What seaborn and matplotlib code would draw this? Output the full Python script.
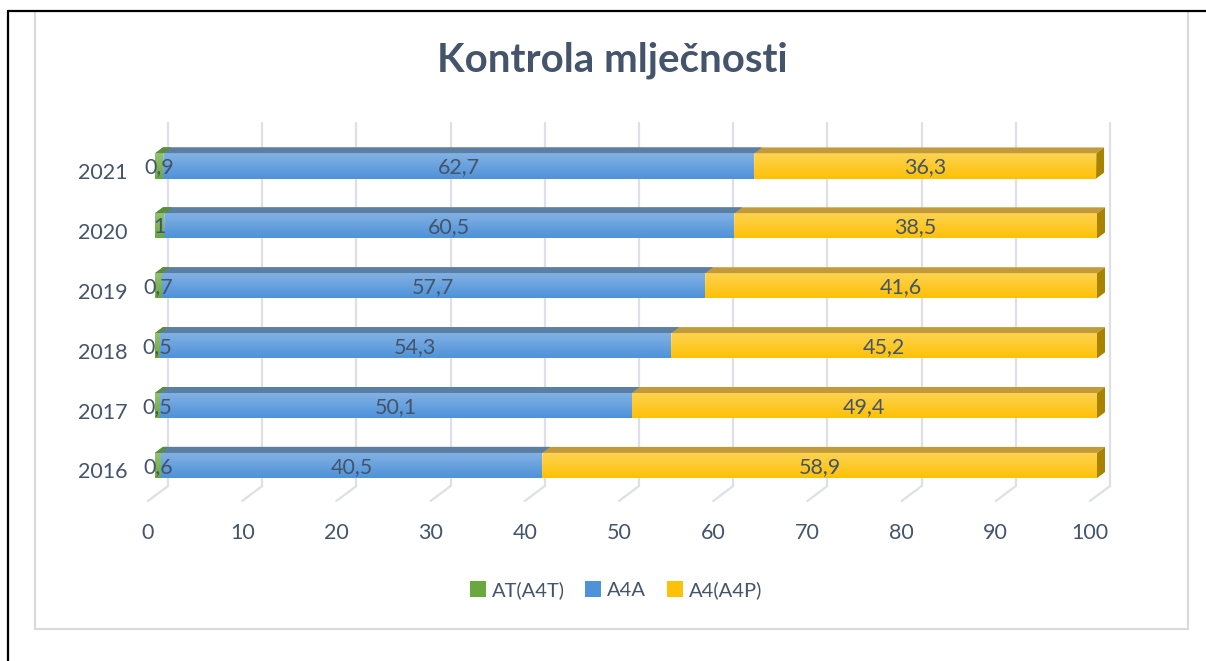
import matplotlib
matplotlib.use("Agg")
import matplotlib.pyplot as plt
import seaborn as sns
import numpy as np
from matplotlib.patches import Polygon, Rectangle
from matplotlib.transforms import IdentityTransform, ScaledTranslation
from matplotlib.lines import Line2D

years = ["2021", "2020", "2019", "2018", "2017", "2016"]
at_a4t = [0.9, 1.0, 0.7, 0.5, 0.5, 0.6]
a4a = [62.7, 60.5, 57.7, 54.3, 50.1, 40.5]
a4_a4p = [36.3, 38.5, 41.6, 45.2, 49.4, 58.9]
series_names = ["AT(A4T)", "A4A", "A4(A4P)"]
x_ticks = [0, 10, 20, 30, 40, 50, 60, 70, 80, 90, 100]

front_cols = ["#6aa83e", "#4f92d9", "#fdc108"]
top_cols = ["#5a8f36", "#5a7fa6", "#c29a3a"]
side_col = "#a88300"
text_col = "#44546a"
grid_col = "#dde0e7"

W, H = 1206, 661
sns.set_style("white")
plt.rcParams["font.family"] = ["Lato", "DejaVu Sans"]

fig = plt.figure(figsize=(W / 100, H / 100), dpi=100)
ax = fig.add_axes([155 / W, (H - 501) / H, 942 / W, 378 / H])
ax.patch.set_visible(False)

# stacked by overdrawing cumulative totals
layers = [np.array(at_a4t), np.array(a4a), np.array(a4_a4p)]
cum = np.cumsum(layers, axis=0)
pix = IdentityTransform()
dx, dy = 8, 6  # bar depth in pixels
ylim = (5.593, -0.718)

ax.set_xlim(0, 100)
ax.set_ylim(*ylim)
fig.canvas.draw()

for k in [2, 1, 0]:
    z = 3 + (2 - k)
    n0 = len(ax.patches)
    sns.barplot(x=cum[k], y=years, orient="h", color=front_cols[k],
                saturation=1, width=0.42, linewidth=0, ax=ax, zorder=z)
    ax.set_xlim(0, 100)
    ax.set_ylim(*ylim)
    for p in ax.patches[n0:]:
        x0, y0 = ax.transData.transform((p.get_x(), p.get_y() + p.get_height()))
        x1, y1 = ax.transData.transform((p.get_x() + p.get_width(), p.get_y()))
        top = Polygon([(x0, y1), (x1, y1), (x1 + dx, y1 + dy), (x0 + dx, y1 + dy)],
                      closed=True, transform=pix, facecolor=top_cols[k],
                      edgecolor="none", zorder=z, clip_on=False)
        ax.add_artist(top)
        if k == 2:
            side = Polygon([(x1, y0), (x1, y1), (x1 + dx, y1 + dy), (x1 + dx, y0 + dy)],
                           closed=True, transform=pix, facecolor=side_col,
                           edgecolor="none", zorder=z, clip_on=False)
            ax.add_artist(side)
        # soft gradient highlight on front face
        rgba = np.ones((64, 1, 4))
        rgba[..., 3] = np.linspace(0.3, 0.0, 64).reshape(-1, 1)
        im = ax.imshow(rgba, extent=(p.get_x(), p.get_x() + p.get_width(),
                                     p.get_y() + p.get_height(), p.get_y()),
                       aspect="auto", zorder=z + 0.1, origin="upper",
                       interpolation="bilinear")
        im.set_clip_path(p)
    ax.set_xlim(0, 100)
    ax.set_ylim(*ylim)

# gridlines on back wall + floor diagonals
bx, by = 13, 15
_, y_bot = ax.transAxes.transform((0, 0))
_, y_top = ax.transAxes.transform((0, 1))
for t in x_ticks:
    xf, _ = ax.transData.transform((t, 0))
    xb = xf + bx
    ax.add_line(Line2D([xb, xb], [y_bot + by, y_top], transform=pix,
                       color=grid_col, lw=1.6, zorder=0.5, clip_on=False))
    ax.add_line(Line2D([xb, xb - 20], [y_bot + by, y_bot], transform=pix,
                       color=grid_col, lw=1.6, zorder=0.5, clip_on=False))

# data labels
for k in range(3):
    start = cum[k] - layers[k]
    for i, v in enumerate(layers[k]):
        txt = f"{v:g}".replace(".", ",")
        ax.text(start[i] + v / 2, i + 0.02, txt, ha="center", va="center",
                fontsize=15.5, color=text_col, zorder=10)

for s in ax.spines.values():
    s.set_visible(False)
ax.set_xlabel("")
ax.set_ylabel("")
ax.set_xticks(x_ticks)
ax.set_xticklabels([str(t) for t in x_ticks])
ax.tick_params(axis="x", length=0, pad=16, labelsize=15.5, labelcolor=text_col)
ax.tick_params(axis="y", length=0, pad=20, labelsize=15.5, labelcolor=text_col)
for lab in ax.get_xticklabels():
    lab.set_transform(lab.get_transform() + ScaledTranslation(-7 / 100, 0, fig.dpi_scale_trans))
for lab in ax.get_yticklabels():
    lab.set_transform(lab.get_transform() + ScaledTranslation(0, -5 / 100, fig.dpi_scale_trans))

# legend
handles = [Rectangle((0, 0), 1, 1, facecolor=c, edgecolor="none") for c in front_cols]
fig.legend(handles, series_names, loc="center", bbox_to_anchor=(616 / W, 1 - 590 / H),
           ncol=3, frameon=False, fontsize=14.5, handlelength=0.8, handleheight=0.8,
           handletextpad=0.3, columnspacing=1.0, labelcolor=text_col)

fig.text(612 / W, 1 - 60 / H, "Kontrola mlječnosti", ha="center", va="center",
         fontsize=29, fontweight="bold", color=text_col)

# chart border and page lines
fig.add_artist(Rectangle((35, H - 629), 1153, 618, transform=pix, fill=False,
                         edgecolor="#d9d9d9", lw=1.5, zorder=0))
fig.add_artist(Line2D([8, W], [H - 10.5, H - 10.5], transform=pix, color="black", lw=1.6))
fig.add_artist(Line2D([8, 8], [0, H - 10.5], transform=pix, color="black", lw=1.6))

fig.savefig("out.png", dpi=100)
